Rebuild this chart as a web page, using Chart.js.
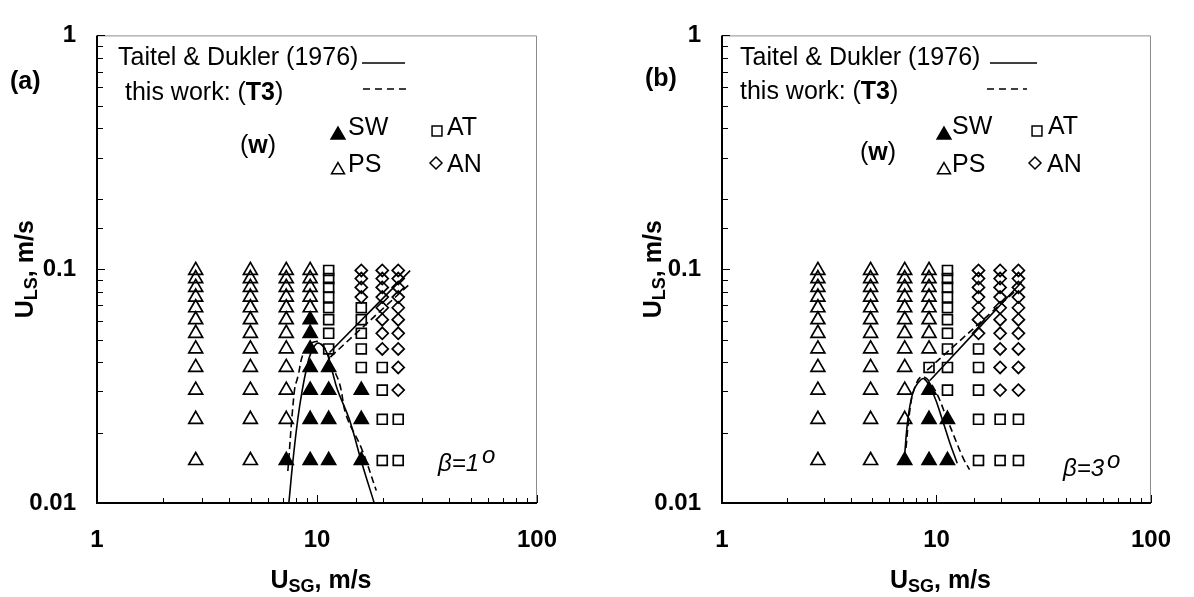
<!DOCTYPE html>
<html>
<head>
<meta charset="utf-8">
<title>Flow pattern maps</title>
<script src="https://cdn.jsdelivr.net/npm/chart.js@4.4.1/dist/chart.umd.min.js"></script>
<style>
  body { margin: 0; background: #fff; }
  .panel { position: absolute; top: 0; width: 597px; height: 597px; }
</style>
</head>
<body>
<div class="panel" style="left:0"><canvas id="chartA" width="597" height="597"></canvas></div>
<div class="panel" style="left:597px"><canvas id="chartB" width="597" height="597"></canvas></div>
<script>
const FONT = '"Liberation Sans", Arial, Helvetica, sans-serif';

const xTickLabels = ['1', '10', '100'];
const yTickLabels = ['0.01', '0.1', '1'];

// liquid superficial velocities of the test rows (m/s)
const ulsLevels = [0.0152, 0.0228, 0.0304, 0.038, 0.0456, 0.0532, 0.0608, 0.0684, 0.076, 0.0836, 0.0912, 0.0988];

// gas superficial velocities of the test columns (m/s)
const usgA = [2.81, 4.98, 7.25, 9.31, 11.3, 15.9, 19.8, 23.4];
const usgB = [2.80, 4.93, 7.11, 9.23, 11.25, 15.7, 19.8, 24.1];

// observed pattern for each column, lowest U_LS first
// S = SW, P = PS, T = AT, N = AN
const patternA = ['PPPPPPPPPPPP', 'PPPPPPPPPPPP', 'SPPPPPPPPPPP', 'SSSSSSSPPPPP',
                  'SSSSTTTTTTTT', 'SSSTTTTTNNNN', 'TTTTNNNNNNNN', 'TTNNNNNNNNNN'];
const patternB = ['PPPPPPPPPPPP', 'PPPPPPPPPPPP', 'SPPPPPPPPPPP', 'SSSTPPPPPPPP',
                  'SSTTTTTTTTTT', 'TTTTTNNNNNNN', 'TTNNNNNNNNNN', 'TTNNNNNNNNNN'];

// transition boundaries, [U_SG, U_LS]
const tdCurveA = [[7.45, 0.0100], [7.77, 0.0151], [8.18, 0.0229], [8.57, 0.0304], [8.96, 0.0375],
                  [9.34, 0.0433], [10.05, 0.0482], [10.9, 0.0454], [11.7, 0.0369], [12.4, 0.0304],
                  [14.0, 0.0229], [15.9, 0.0151], [18.2, 0.0100]];
const tdLineA = [[11.4, 0.044], [26.5, 0.0986]];
const t3CurveA = [[7.37, 0.0137], [7.9, 0.0304], [8.18, 0.0346], [8.78, 0.0447], [9.92, 0.0491],
                  [11.0, 0.045], [11.6, 0.0393], [12.65, 0.0325], [13.6, 0.0236], [15.9, 0.0172],
                  [18.6, 0.0113]];
const t3LineA = [[11.5, 0.0421], [26.3, 0.0862]];

const tdCurveB = [[7.06, 0.0149], [7.36, 0.0229], [7.75, 0.0295], [8.17, 0.0325], [8.76, 0.034],
                  [9.72, 0.0289], [10.57, 0.0232], [11.49, 0.0183], [12.49, 0.0148]];
const tdLineB = [[9.32, 0.0334], [24.9, 0.088]];
const t3CurveB = [[7.21, 0.0172], [7.49, 0.0244], [7.89, 0.0309], [8.58, 0.0347], [9.72, 0.031],
                  [11.37, 0.0221], [13.3, 0.0156], [14.26, 0.0139]];
const t3LineB = [[9.04, 0.037], [23.6, 0.0815]];

function isDecade(v) {
    const e = Math.log10(v);
    return Math.abs(e - Math.round(e)) < 1e-6;
}

function tickText(v, labels) {
    const hit = labels.find(l => Math.abs(Math.log10(parseFloat(l)) - Math.log10(v)) < 1e-6);
    return hit || '';
}

function fontOf(r, size) {
    return (r.i ? 'italic ' : '') + (r.b ? 'bold ' : '') + (r.s || size) + 'px ' + FONT;
}

function runsWidth(ctx, runs, size) {
    let w = 0;
    runs.forEach(r => { ctx.font = fontOf(r, size); w += ctx.measureText(r.t).width + (r.gap || 0); });
    return w;
}

function drawRuns(ctx, x, y, runs, size) {
    runs.forEach(r => {
        ctx.font = fontOf(r, size);
        x += (r.gap || 0);
        ctx.fillText(r.t, x, y + (r.dy || 0));
        x += ctx.measureText(r.t).width;
    });
}

function makePanel(p) {

    const points = code => {
        const out = [];
        p.usg.forEach((x, i) => {
            for (let j = 0; j < ulsLevels.length; j++)
                if (p.pattern[i][j] === code) out.push({ x: x, y: ulsLevels[j] });
        });
        return out;
    };

    const marker = (label, code, style, radius, fill) => ({
        label: label,
        data: points(code),
        showLine: false,
        pointStyle: style,
        pointRadius: radius,
        pointHoverRadius: radius,
        pointBackgroundColor: fill,
        pointBorderColor: '#000',
        pointBorderWidth: 1.7
    });

    const boundary = (label, pairs, dashed) => ({
        label: label,
        data: pairs.map(q => ({ x: q[0], y: q[1] })),
        showLine: true,
        pointRadius: 0,
        borderColor: '#000',
        borderWidth: 1.6,
        borderDash: dashed ? [7, 4] : [],
        tension: 0.4,
        fill: false
    });

    const decor = {
        id: 'decor',
        beforeDatasetsDraw(chart) {
            const ctx = chart.ctx;
            const a = chart.chartArea;
            const sx = chart.scales.x, sy = chart.scales.y;
            ctx.save();
            // light top and right edges
            ctx.strokeStyle = '#8c8c8c';
            ctx.lineWidth = 1;
            ctx.beginPath();
            ctx.moveTo(a.left, a.top + 0.5);
            ctx.lineTo(a.right - 0.5, a.top + 0.5);
            ctx.lineTo(a.right - 0.5, a.bottom);
            ctx.stroke();
            // tick marks point into the plot
            ctx.strokeStyle = '#000';
            ctx.beginPath();
            sx.ticks.forEach(t => {
                const px = Math.round(sx.getPixelForValue(t.value)) + 0.5;
                const len = isDecade(t.value) ? 8 : 5;
                ctx.moveTo(px, a.bottom);
                ctx.lineTo(px, a.bottom - len);
            });
            sy.ticks.forEach(t => {
                const py = Math.round(sy.getPixelForValue(t.value)) + 0.5;
                const len = isDecade(t.value) ? 8 : 6;
                ctx.moveTo(a.left, py);
                ctx.lineTo(a.left + len, py);
            });
            ctx.stroke();
            ctx.lineWidth = 2;
            ctx.beginPath();
            ctx.moveTo(a.left, a.top);
            ctx.lineTo(a.left, a.bottom);
            ctx.lineTo(a.right, a.bottom);
            ctx.stroke();
            ctx.restore();
        },
        afterDraw(chart) {
            const ctx = chart.ctx;
            const a = chart.chartArea;
            ctx.save();
            ctx.fillStyle = '#000';
            ctx.strokeStyle = '#000';
            ctx.textAlign = 'left';
            ctx.textBaseline = 'alphabetic';

            // axis titles
            const xt = [{ t: 'U', b: 1 }, { t: 'SG', b: 1, s: 18, dy: 4 }, { t: ', m/s', b: 1 }];
            drawRuns(ctx, (a.left + a.right) / 2 + 4 - runsWidth(ctx, xt, 25) / 2, 588, xt, 25);
            const yt = [{ t: 'U', b: 1 }, { t: 'LS', b: 1, s: 18, dy: 4 }, { t: ', m/s', b: 1 }];
            ctx.save();
            ctx.translate(p.yTitleX, (a.top + a.bottom) / 2);
            ctx.rotate(-Math.PI / 2);
            drawRuns(ctx, -runsWidth(ctx, yt, 25) / 2, 0, yt, 25);
            ctx.restore();

            // panel letter and inclination
            drawRuns(ctx, p.tag[1], p.tag[2], [{ t: p.tag[0], b: 1 }], 25);
            drawRuns(ctx, p.beta[1], p.beta[2],
                [{ t: '\u03b2=' + p.beta[0], i: 1 }, { t: 'o', i: 1, dy: -8, gap: 3 }], 24);

            // key for the lines
            const n = p.notes;
            drawRuns(ctx, n.td[0], n.td[1], [{ t: 'Taitel & Dukler (1976)' }], 25);
            drawRuns(ctx, n.t3[0], n.t3[1], [{ t: 'this work: (' }, { t: 'T3', b: 1 }, { t: ')' }], 25);
            drawRuns(ctx, n.w[0], n.w[1], [{ t: '(' }, { t: 'w', b: 1 }, { t: ')' }], 25);
            ctx.lineWidth = 1.5;
            ctx.beginPath();
            ctx.moveTo(n.td[2], n.td[4]);
            ctx.lineTo(n.td[3], n.td[4]);
            ctx.stroke();
            ctx.setLineDash([7, 5]);
            ctx.beginPath();
            ctx.moveTo(n.t3[2], n.t3[4]);
            ctx.lineTo(n.t3[3], n.t3[4]);
            ctx.stroke();
            ctx.setLineDash([]);

            // key for the markers
            p.keys.forEach(k => {
                ctx.fillStyle = k[1] ? '#000' : 'rgba(0,0,0,0)';
                ctx.lineWidth = 1.5;
                Chart.helpers.drawPoint(ctx, { pointStyle: k[0], radius: k[2], rotation: 0, borderWidth: 1.5 }, k[3], k[4]);
                ctx.fillStyle = '#000';
                drawRuns(ctx, k[6], k[7], [{ t: k[5] }], 25);
            });
            ctx.restore();
        }
    };

    const tickFont = { family: FONT, size: 24, weight: 'bold' };

    return new Chart(document.getElementById(p.id), {
        type: 'scatter',
        data: {
            datasets: [
                boundary('Taitel & Dukler (1976)', p.tdCurve, false),
                boundary('Taitel & Dukler (1976)', p.tdLine, false),
                boundary('this work: (T3)', p.t3Curve, true),
                boundary('this work: (T3)', p.t3Line, true),
                marker('SW', 'S', 'triangle', 8, '#000'),
                marker('PS', 'P', 'triangle', 8, 'rgba(0,0,0,0)'),
                marker('AT', 'T', 'rect', 7, 'rgba(0,0,0,0)'),
                marker('AN', 'N', 'rectRot', 6, 'rgba(0,0,0,0)')
            ]
        },
        options: {
            responsive: false,
            animation: false,
            events: [],
            layout: { padding: { left: 0, top: 22, right: p.padRight, bottom: 0 } },
            plugins: { legend: { display: false }, tooltip: { enabled: false } },
            scales: {
                x: {
                    type: 'logarithmic',
                    min: 1,
                    max: 100,
                    grid: { display: false, drawTicks: false },
                    border: { display: false },
                    ticks: {
                        autoSkip: false, maxRotation: 0, padding: 23, color: '#000', font: tickFont,
                        callback: v => tickText(v, xTickLabels)
                    },
                    afterFit: s => { s.height = 94; }
                },
                y: {
                    type: 'logarithmic',
                    min: 0.01,
                    max: 1,
                    grid: { display: false, drawTicks: false },
                    border: { display: false },
                    ticks: {
                        autoSkip: false, padding: 21, color: '#000', font: tickFont,
                        callback: v => tickText(v, yTickLabels)
                    },
                    afterFit: s => { s.width = p.yAxisWidth; }
                }
            }
        },
        plugins: [decor]
    });
}

makePanel({
    id: 'chartA', usg: usgA, pattern: patternA,
    tdCurve: tdCurveA, tdLine: tdLineA, t3Curve: t3CurveA, t3Line: t3LineA,
    yAxisWidth: 97, padRight: 60, yTitleX: 33,
    tag: ['(a)', 10, 89],
    beta: ['1', 438, 471],
    notes: { td: [118, 65, 362, 405, 63], t3: [125, 100, 363, 410, 89], w: [240, 153] },
    keys: [
        ['triangle', 1, 8, 338, 135, 'SW', 348, 135],
        ['triangle', 0, 7.5, 338, 170, 'PS', 348, 172],
        ['rect', 0, 7, 437, 131, 'AT', 447, 135],
        ['rectRot', 0, 6, 436, 163, 'AN', 447, 172]
    ]
});

makePanel({
    id: 'chartB', usg: usgB, pattern: patternB,
    tdCurve: tdCurveB, tdLine: tdLineB, t3Curve: t3CurveB, t3Line: t3LineB,
    yAxisWidth: 125, padRight: 31, yTitleX: 64,
    tag: ['(b)', 48, 86],
    beta: ['3', 466, 476],
    notes: { td: [143, 65, 393, 440, 63], t3: [143, 99, 390, 430, 89], w: [263, 160] },
    keys: [
        ['triangle', 1, 8, 347, 135, 'SW', 355, 134],
        ['triangle', 0, 7.5, 347, 170, 'PS', 355, 172],
        ['rect', 0, 7, 440, 131, 'AT', 451, 134],
        ['rectRot', 0, 6, 438, 163, 'AN', 450, 172]
    ]
});
</script>
</body>
</html>
